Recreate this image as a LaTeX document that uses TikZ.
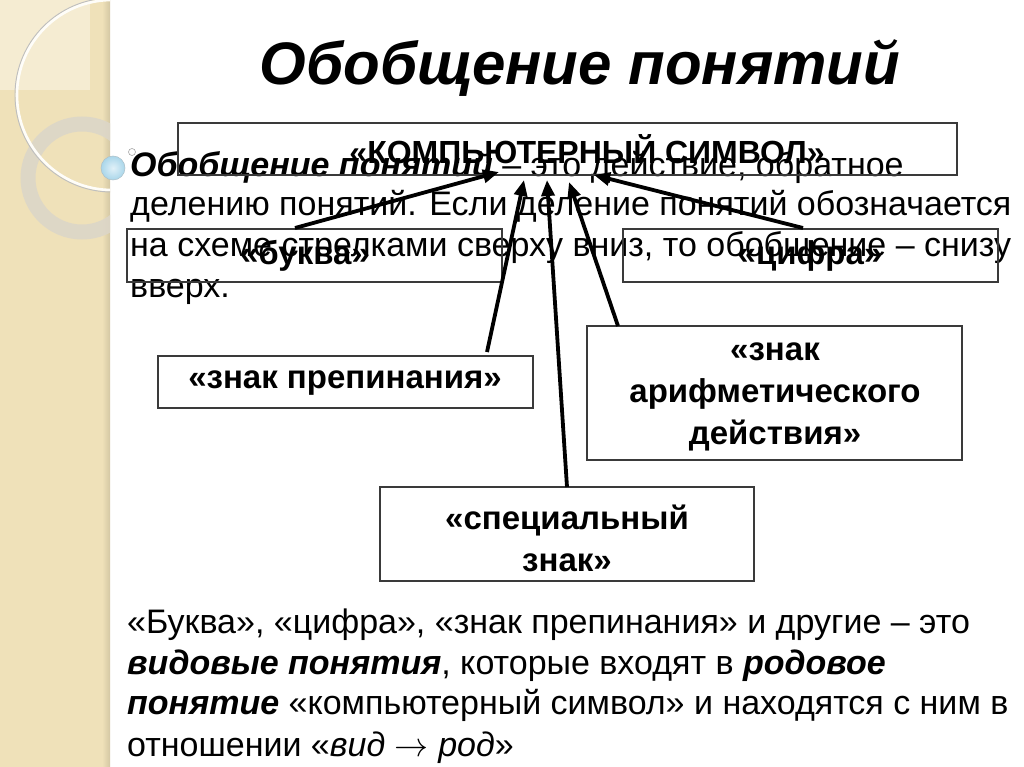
\RequirePackage{fix-cm}
\documentclass[tikz,border=0pt]{standalone}
\usepackage{fontspec}
\setmainfont{Liberation Sans}
\usetikzlibrary{arrows.meta,shadings}
\definecolor{strip}{HTML}{EFE1B9}
\definecolor{striplight}{HTML}{F5ECD2}
\definecolor{stripdark}{HTML}{D3C7A3}
\definecolor{ringc}{HTML}{DCD6C8}
\definecolor{boxline}{HTML}{3A3A3A}
\definecolor{bulletc}{HTML}{A9D6EA}
\tikzset{
  lbox/.style={draw=boxline,line width=1.3pt},
  blabel/.style={font=\fontsize{33}{41}\selectfont\bfseries,align=center,inner sep=0pt},
  ptext/.style={font=\fontsize{34}{40}\selectfont,anchor=base west,inner sep=0pt},
  harrow/.style={line width=3.8pt,-{Triangle[length=16pt,width=13pt]}},
}
\begin{document}
\begin{tikzpicture}[x=1pt,y=-1pt]
\useasboundingbox (0,0) rectangle (1024,767);
\fill[white] (0,0) rectangle (1024,767);
% left decorative strip
\begin{scope}
  \clip (0,0) rectangle (110,767);
  \fill[strip] (0,0) rectangle (110,767);
  \fill[striplight] (0,0) rectangle (90,90);
  \shade[left color=strip,right color=stripdark] (102,0) rectangle (110,767);
  \draw[ringc,line width=15pt,opacity=0.9] (82,178) circle (54);
  \draw[black!25,line width=1pt] (112,95) circle (97);
  \draw[white!92!strip,line width=2.6pt] (112,95) circle (95);
\end{scope}
% bullet
\shade[inner color=bulletc!35!white,outer color=bulletc] (113,168) circle (12);
\draw[bulletc!70!black!60,line width=0.5pt] (113,168) circle (12);
\draw[black!35,line width=0.6pt] (132,152) circle (3.5);
% title
\node[font=\fontsize{60}{66}\selectfont\bfseries\itshape,inner sep=0pt] (title) at (580,68) {Обобщение понятий};
% paragraph
\node[ptext] (p1) at (130,177) {\textbf{\textit{Обобщение понятий}} – это действие, обратное};
\node[ptext] (p2) at (130,216) {делению понятий. Если деление понятий обозначается};
\node[ptext] (p3) at (130,256) {на схеме стрелками сверху вниз, то обобщение – снизу};
\node[ptext] (p4) at (130,297) {вверх.};
% boxes
\draw[lbox] (178,123) rectangle (957,175);
\node[blabel,font=\fontsize{32}{40}\selectfont\bfseries] (ks) at (587,149) {«КОМПЬЮТЕРНЫЙ СИМВОЛ»};
\draw[lbox] (127,229) rectangle (502,282);
\node[blabel] (bk) at (305,256) {«буква»};
\draw[lbox] (623,229) rectangle (998,282);
\node[blabel] (cf) at (810,256) {«цифра»};
\draw[lbox] (158,356) rectangle (533,408);
\node[blabel] (zp) at (345,383) {«знак препинания»};
\draw[lbox] (587,326) rectangle (962,460);
\node[blabel] (za) at (775,397) {«знак\\[1pt]арифметического\\[1pt]действия»};
\draw[lbox] (380,487) rectangle (754,581);
\node[blabel] (sz) at (567,538) {«специальный\\[1pt]знак»};
% arrow end points
\coordinate (sbk) at (295,228);
\coordinate (tbk) at (499,172);
\coordinate (scf) at (803,228);
\coordinate (tcf) at (594,175);
\coordinate (szp) at (487,352);
\coordinate (tzp) at (524,180);
\coordinate (ssz) at (567,487);
\coordinate (tsz) at (547,180);
\coordinate (sza) at (618,326);
\coordinate (tza) at (569,182);
\draw[harrow] (sbk) -- (tbk);
\draw[harrow] (scf) -- (tcf);
\draw[harrow] (szp) -- (tzp);
\draw[harrow] (ssz) -- (tsz);
\draw[harrow] (sza) -- (tza);
% bottom text
\node[ptext] (b1) at (127,633) {«Буква», «цифра», «знак препинания» и другие – это};
\node[ptext] (b2) at (127,674) {\textbf{\textit{видовые понятия}}, которые входят в \textbf{\textit{родовое}}};
\node[ptext] (b3) at (127,714) {\textbf{\textit{понятие}} «компьютерный символ» и находятся с ним в};
\node[ptext] (b4) at (127,756) {отношении «\textit{вид} $\rightarrow$ \textit{род}»};
\end{tikzpicture}
\end{document}
